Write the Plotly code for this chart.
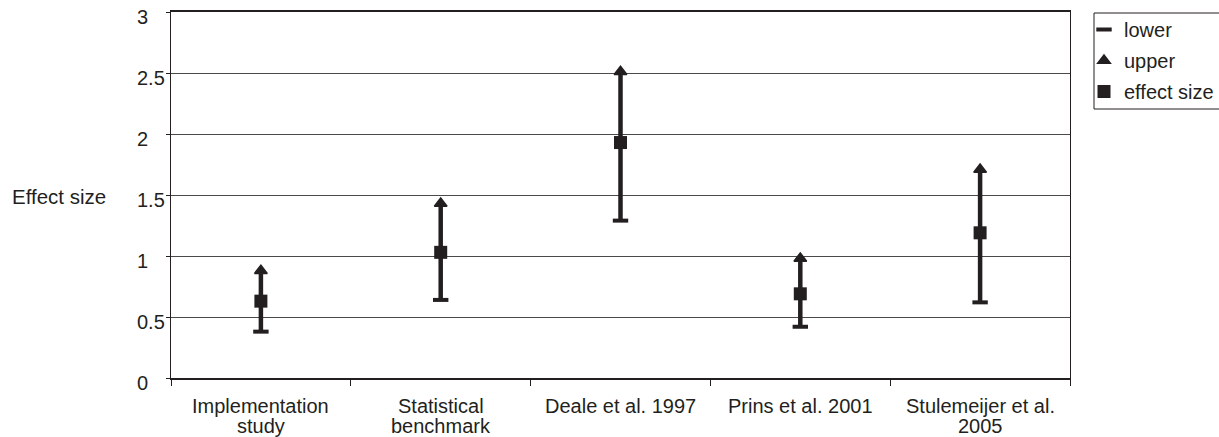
import plotly.graph_objects as go

# ---- data ----
categories = ["Implementation study", "Statistical benchmark", "Deale et al. 1997",
              "Prins et al. 2001", "Stulemeijer et al. 2005"]
label_line1 = ["Implementation", "Statistical", "Deale et al. 1997", "Prins et al. 2001", "Stulemeijer et al."]
label_line2 = ["study", "benchmark", "", "", "2005"]
lower = [0.38, 0.64, 1.29, 0.42, 0.62]
upper = [0.88, 1.43, 2.51, 0.98, 1.71]
effect = [0.63, 1.03, 1.93, 0.69, 1.19]
ytick_vals = [0, 0.5, 1, 1.5, 2, 2.5, 3]
ytick_text = ["0", "0.5", "1", "1.5", "2", "2.5", "3"]

INK = "#231f20"
FONT = "Liberation Sans, Arial, sans-serif"
W, H = 1219, 437
ML, MR, MT, MB = 171, 149, 12, 59
PW = W - ML - MR
PH = H - MT - MB

def px_x(p):
    return (p - ML) / PW

def px_y(p):
    return (H - MB - p) / PH

fig = go.Figure()

# high-low lines
lx, ly = [], []
for c, lo, hi in zip(categories, lower, upper):
    lx += [c, c, None]
    ly += [lo, hi, None]
fig.add_trace(go.Scatter(x=lx, y=ly, mode="lines", line=dict(color=INK, width=4.5),
                         showlegend=False, hoverinfo="skip"))

fig.add_trace(go.Scatter(x=categories, y=lower, mode="markers", name="lower",
                         legendgroup="a",
                         marker=dict(symbol="line-ew", size=11, color=INK,
                                     line=dict(color=INK, width=4))))
fig.add_trace(go.Scatter(x=categories, y=upper, mode="markers", name="upper",
                         legendgroup="b",
                         marker=dict(symbol="triangle-up", size=11, color=INK,
                                     line=dict(color=INK, width=1.5))))
fig.add_trace(go.Scatter(x=categories, y=effect, mode="markers", name="effect size",
                         legendgroup="c",
                         marker=dict(symbol="square", size=13, color=INK)))

annotations = []
# x category labels
for c, l1, l2 in zip(categories, label_line1, label_line2):
    annotations.append(dict(x=c, xref="x", y=0, yref="y", text=l1, showarrow=False,
                            yanchor="middle", yshift=-28,
                            font=dict(family=FONT, size=20, color=INK)))
    if l2:
        annotations.append(dict(x=c, xref="x", y=0, yref="y", text=l2, showarrow=False,
                                yanchor="middle", yshift=-48,
                                font=dict(family=FONT, size=20, color=INK)))
# y tick labels (left aligned)
for v, t in zip(ytick_vals, ytick_text):
    annotations.append(dict(x=px_x(135), xref="paper", y=v, yref="y", text=t,
                            showarrow=False, xanchor="left", yanchor="middle", yshift=-5,
                            font=dict(family=FONT, size=20, color=INK)))
# y axis title
annotations.append(dict(x=px_x(10), xref="paper", y=1.5, yref="y", text="Effect size",
                        showarrow=False, xanchor="left", yanchor="middle", yshift=-1,
                        font=dict(family=FONT, size=20.5, color=INK)))

fig.update_layout(
    width=W, height=H,
    margin=dict(l=ML, r=MR, t=MT, b=MB, pad=0, autoexpand=False),
    paper_bgcolor="white", plot_bgcolor="white",
    font=dict(family=FONT, size=20, color=INK),
    showlegend=True,
    legend=dict(x=px_x(1084), xanchor="left", y=px_y(10), yanchor="top",
                bgcolor="rgba(0,0,0,0)", borderwidth=0, tracegroupgap=2,
                font=dict(family=FONT, size=20, color=INK), itemwidth=30),
    annotations=annotations,
    shapes=[dict(type="rect", xref="paper", yref="paper",
                 x0=px_x(1094), x1=px_x(1228), y0=px_y(109), y1=px_y(13),
                 line=dict(color=INK, width=1))],
    xaxis=dict(type="category", range=[-0.5, 4.5], showline=True, linecolor=INK,
               linewidth=2, mirror=True, ticks="outside", tickson="boundaries",
               ticklen=6, tickcolor=INK, tickwidth=1, showticklabels=False,
               showgrid=False, zeroline=False, fixedrange=True),
    yaxis=dict(range=[0, 3], tickvals=ytick_vals, showticklabels=False,
               showgrid=True, gridcolor="#4a4a4a", gridwidth=1,
               showline=True, linecolor=INK, linewidth=1, mirror=True,
               ticks="outside", ticklen=4, tickcolor=INK, zeroline=False,
               fixedrange=True),
)

fig.write_html("out.html", config={"displayModeBar": False},
               post_script="document.body.style.margin='0';")
